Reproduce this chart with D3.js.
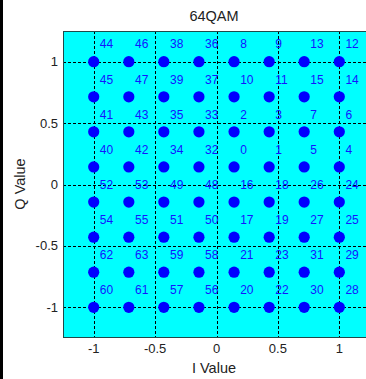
<!DOCTYPE html>
<html>
<head>
<meta charset="utf-8">
<script src="https://cdn.jsdelivr.net/npm/d3@7"></script>
<style>
  html, body { margin: 0; padding: 0; background: #ffffff; overflow: hidden; }
  svg { display: block; font-family: "Liberation Sans", Arial, sans-serif; }
</style>
</head>
<body>
<script>
// ---- data ----
const chartTitle = "64QAM";
const xLabel = "I Value";
const yLabel = "Q Value";
// In-phase levels (columns, left to right)
const iLevels = [-1, -0.714, -0.429, -0.143, 0.143, 0.429, 0.714, 1];
// Quadrature levels (rows, top to bottom)
const qLevels = [1, 0.714, 0.429, 0.143, -0.143, -0.429, -0.714, -1];
// Symbol index written next to each point, row by row (top to bottom)
const symbolRows = [
  [44, 46, 38, 36, 8, 9, 13, 12],
  [45, 47, 39, 37, 10, 11, 15, 14],
  [41, 43, 35, 33, 2, 3, 7, 6],
  [40, 42, 34, 32, 0, 1, 5, 4],
  [52, 53, 49, 48, 16, 18, 26, 24],
  [54, 55, 51, 50, 17, 19, 27, 25],
  [62, 63, 59, 58, 21, 23, 31, 29],
  [60, 61, 57, 56, 20, 22, 30, 28]
];
const xTicks = [-1, -0.5, 0, 0.5, 1];
const yTicks = [-1, -0.5, 0, 0.5, 1];
const xTickLabels = ["-1", "-0.5", "0", "0.5", "1"];
const yTickLabels = ["-1", "-0.5", "0", "0.5", "1"];
const axisDomain = [-1.25, 1.25];

// ---- layout ----
const W = 366, H = 379;
const plot = { left: 63, top: 31, width: 307, height: 307 };

const svg = d3.select("body").append("svg")
  .attr("width", W).attr("height", H);

svg.append("rect").attr("width", W).attr("height", H).attr("fill", "#ffffff");
svg.append("rect").attr("x", 0).attr("y", 0).attr("width", 3).attr("height", H).attr("fill", "#000000");

const x = d3.scaleLinear().domain(axisDomain).range([plot.left, plot.left + plot.width]);
const y = d3.scaleLinear().domain(axisDomain).range([plot.top + plot.height, plot.top]);

// plot background
svg.append("rect")
  .attr("x", plot.left).attr("y", plot.top)
  .attr("width", plot.width).attr("height", plot.height)
  .attr("fill", "#00ffff");

// grid
const grid = svg.append("g").attr("stroke", "#000000").attr("stroke-width", 1)
  .attr("stroke-dasharray", "3,2").attr("shape-rendering", "crispEdges");
grid.selectAll("line.v").data(xTicks).join("line")
  .attr("class", "v")
  .attr("x1", d => Math.round(x(d)) + 0.5).attr("x2", d => Math.round(x(d)) + 0.5)
  .attr("y1", plot.top).attr("y2", plot.top + plot.height);
grid.selectAll("line.h").data(yTicks).join("line")
  .attr("class", "h")
  .attr("y1", d => Math.round(y(d)) + 0.5).attr("y2", d => Math.round(y(d)) + 0.5)
  .attr("x1", plot.left).attr("x2", plot.left + plot.width);

// axes box
svg.append("rect")
  .attr("x", plot.left + 0.5).attr("y", plot.top + 0.5)
  .attr("width", plot.width - 1).attr("height", plot.height - 1)
  .attr("fill", "none").attr("stroke", "#1f4a4a").attr("stroke-width", 1)
  .attr("shape-rendering", "crispEdges");

// points & labels
const points = [];
qLevels.forEach((q, r) => {
  iLevels.forEach((i, c) => {
    points.push({ i, q, label: symbolRows[r][c] });
  });
});

svg.append("g").selectAll("circle").data(points).join("circle")
  .attr("cx", d => x(d.i)).attr("cy", d => y(d.q))
  .attr("r", 5.6).attr("fill", "#0000ff");

const rowStep = qLevels[0] - qLevels[1];
svg.append("g").selectAll("text").data(points).join("text")
  .attr("x", d => x(d.i + 0.05))
  .attr("y", d => y(d.q + rowStep / 2) + 4.3)
  .attr("font-size", 12)
  .attr("fill", "#1414ff")
  .text(d => d.label);

// tick labels
svg.append("g").selectAll("text").data(xTicks).join("text")
  .attr("x", d => x(d)).attr("y", 353)
  .attr("text-anchor", "middle").attr("font-size", 13).attr("fill", "#222")
  .text((d, k) => xTickLabels[k]);
svg.append("g").selectAll("text").data(yTicks).join("text")
  .attr("x", 58).attr("y", d => y(d) + 4.5)
  .attr("text-anchor", "end").attr("font-size", 13).attr("fill", "#222")
  .text((d, k) => yTickLabels[k]);

// titles
svg.append("text").attr("x", 214).attr("y", 20.5)
  .attr("text-anchor", "middle").attr("font-size", 14.5).attr("fill", "#222")
  .text(chartTitle);
svg.append("text").attr("x", 214).attr("y", 373)
  .attr("text-anchor", "middle").attr("font-size", 14.5).attr("fill", "#222")
  .text(xLabel);
svg.append("text")
  .attr("transform", "translate(25,184) rotate(-90)")
  .attr("text-anchor", "middle").attr("font-size", 14.5).attr("fill", "#222")
  .text(yLabel);
</script>
</body>
</html>
